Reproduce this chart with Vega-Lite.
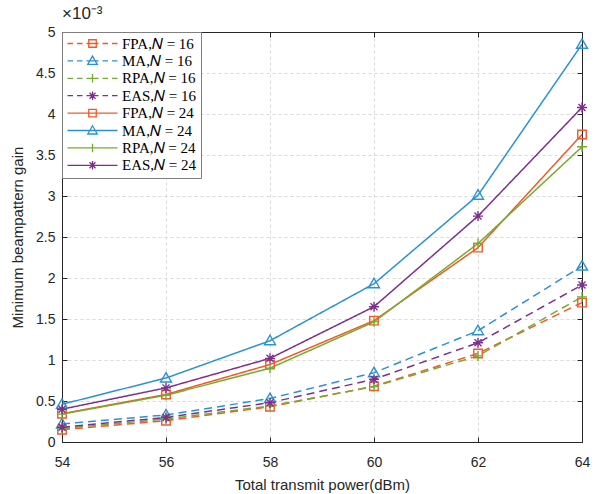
{
  "$schema": "https://vega.github.io/schema/vega-lite/v6.json",
  "autosize": {"type": "none"},
  "padding": {"left": 62, "top": 32, "right": 15, "bottom": 52},
  "width": 520,
  "height": 410,
  "background": "white",
  "title": {"text": "×10⁻³", "anchor": "start", "frame": "group", "fontSize": 17, "font": "Liberation Sans", "fontWeight": "normal", "color": "#262626", "offset": 2},
  "config": {
    "view": {"stroke": null},
    "axis": {"domainColor": "#262626", "tickColor": "#262626", "labelColor": "#262626", "titleColor": "#262626", "labelFont": "Liberation Sans", "titleFont": "Liberation Sans", "labelFontSize": 14, "titleFontSize": 15, "titleFontWeight": "normal", "gridColor": "#d9d9d9", "gridDash": [3, 3], "domainWidth": 1, "tickWidth": 1, "labelFlush": false},
    "legend": {"orient": "top-left", "offset": 0, "padding": 4, "title": null, "strokeColor": "#7f7f7f", "fillColor": "white",
               "labelFont": "Liberation Serif", "labelFontSize": 15, "labelColor": "#000000", "symbolSize": 100, "symbolOffset": 19, "labelOffset": 22, "rowPadding": 1.4, "symbolStrokeWidth": 1.3}
  },
  "data": {"values": [
    {"series": "FPA,𝑁 = 16", "method": "FPA", "N": 16, "power": 54, "gain": 0.15},
    {"series": "FPA,𝑁 = 16", "method": "FPA", "N": 16, "power": 56, "gain": 0.26},
    {"series": "FPA,𝑁 = 16", "method": "FPA", "N": 16, "power": 58, "gain": 0.43},
    {"series": "FPA,𝑁 = 16", "method": "FPA", "N": 16, "power": 60, "gain": 0.68},
    {"series": "FPA,𝑁 = 16", "method": "FPA", "N": 16, "power": 62, "gain": 1.08},
    {"series": "FPA,𝑁 = 16", "method": "FPA", "N": 16, "power": 64, "gain": 1.70},
    {"series": "MA,𝑁 = 16", "method": "MA", "N": 16, "power": 54, "gain": 0.22},
    {"series": "MA,𝑁 = 16", "method": "MA", "N": 16, "power": 56, "gain": 0.33},
    {"series": "MA,𝑁 = 16", "method": "MA", "N": 16, "power": 58, "gain": 0.53},
    {"series": "MA,𝑁 = 16", "method": "MA", "N": 16, "power": 60, "gain": 0.845},
    {"series": "MA,𝑁 = 16", "method": "MA", "N": 16, "power": 62, "gain": 1.357},
    {"series": "MA,𝑁 = 16", "method": "MA", "N": 16, "power": 64, "gain": 2.146},
    {"series": "RPA,𝑁 = 16", "method": "RPA", "N": 16, "power": 54, "gain": 0.165},
    {"series": "RPA,𝑁 = 16", "method": "RPA", "N": 16, "power": 56, "gain": 0.28},
    {"series": "RPA,𝑁 = 16", "method": "RPA", "N": 16, "power": 58, "gain": 0.44},
    {"series": "RPA,𝑁 = 16", "method": "RPA", "N": 16, "power": 60, "gain": 0.675},
    {"series": "RPA,𝑁 = 16", "method": "RPA", "N": 16, "power": 62, "gain": 1.05},
    {"series": "RPA,𝑁 = 16", "method": "RPA", "N": 16, "power": 64, "gain": 1.77},
    {"series": "EAS,𝑁 = 16", "method": "EAS", "N": 16, "power": 54, "gain": 0.18},
    {"series": "EAS,𝑁 = 16", "method": "EAS", "N": 16, "power": 56, "gain": 0.30},
    {"series": "EAS,𝑁 = 16", "method": "EAS", "N": 16, "power": 58, "gain": 0.48},
    {"series": "EAS,𝑁 = 16", "method": "EAS", "N": 16, "power": 60, "gain": 0.765},
    {"series": "EAS,𝑁 = 16", "method": "EAS", "N": 16, "power": 62, "gain": 1.21},
    {"series": "EAS,𝑁 = 16", "method": "EAS", "N": 16, "power": 64, "gain": 1.915},
    {"series": "FPA,𝑁 = 24", "method": "FPA", "N": 24, "power": 54, "gain": 0.345},
    {"series": "FPA,𝑁 = 24", "method": "FPA", "N": 24, "power": 56, "gain": 0.58},
    {"series": "FPA,𝑁 = 24", "method": "FPA", "N": 24, "power": 58, "gain": 0.945},
    {"series": "FPA,𝑁 = 24", "method": "FPA", "N": 24, "power": 60, "gain": 1.48},
    {"series": "FPA,𝑁 = 24", "method": "FPA", "N": 24, "power": 62, "gain": 2.37},
    {"series": "FPA,𝑁 = 24", "method": "FPA", "N": 24, "power": 64, "gain": 3.75},
    {"series": "MA,𝑁 = 24", "method": "MA", "N": 24, "power": 54, "gain": 0.46},
    {"series": "MA,𝑁 = 24", "method": "MA", "N": 24, "power": 56, "gain": 0.78},
    {"series": "MA,𝑁 = 24", "method": "MA", "N": 24, "power": 58, "gain": 1.235},
    {"series": "MA,𝑁 = 24", "method": "MA", "N": 24, "power": 60, "gain": 1.93},
    {"series": "MA,𝑁 = 24", "method": "MA", "N": 24, "power": 62, "gain": 3.01},
    {"series": "MA,𝑁 = 24", "method": "MA", "N": 24, "power": 64, "gain": 4.85},
    {"series": "RPA,𝑁 = 24", "method": "RPA", "N": 24, "power": 54, "gain": 0.34},
    {"series": "RPA,𝑁 = 24", "method": "RPA", "N": 24, "power": 56, "gain": 0.57},
    {"series": "RPA,𝑁 = 24", "method": "RPA", "N": 24, "power": 58, "gain": 0.90},
    {"series": "RPA,𝑁 = 24", "method": "RPA", "N": 24, "power": 60, "gain": 1.465},
    {"series": "RPA,𝑁 = 24", "method": "RPA", "N": 24, "power": 62, "gain": 2.42},
    {"series": "RPA,𝑁 = 24", "method": "RPA", "N": 24, "power": 64, "gain": 3.60},
    {"series": "EAS,𝑁 = 24", "method": "EAS", "N": 24, "power": 54, "gain": 0.40},
    {"series": "EAS,𝑁 = 24", "method": "EAS", "N": 24, "power": 56, "gain": 0.66},
    {"series": "EAS,𝑁 = 24", "method": "EAS", "N": 24, "power": 58, "gain": 1.02},
    {"series": "EAS,𝑁 = 24", "method": "EAS", "N": 24, "power": 60, "gain": 1.65},
    {"series": "EAS,𝑁 = 24", "method": "EAS", "N": 24, "power": 62, "gain": 2.755},
    {"series": "EAS,𝑁 = 24", "method": "EAS", "N": 24, "power": 64, "gain": 4.08}
  ]},
  "resolve": {"axis": {"x": "independent", "y": "independent"}},
  "layer": [
    {
      "mark": {"type": "line", "strokeWidth": 1.5},
      "encoding": {
        "x": {"field": "power", "type": "quantitative", "scale": {"domain": [54, 64], "nice": false, "zero": false},
              "axis": {"values": [54, 56, 58, 60, 62, 64], "format": "d", "grid": true, "tickSize": -5, "labelPadding": 18, "title": "Total transmit power(dBm)", "titlePadding": 8}},
        "y": {"field": "gain", "type": "quantitative", "scale": {"domain": [0, 5], "nice": false, "zero": true},
              "axis": {"values": [0, 0.5, 1, 1.5, 2, 2.5, 3, 3.5, 4, 4.5, 5], "labelExpr": "'' + datum.value", "grid": true, "tickSize": -5, "labelPadding": 12, "title": "Minimum beampattern gain", "titlePadding": 10}},
        "color": {"field": "series", "type": "nominal",
                  "scale": {"domain": ["FPA,𝑁 = 16", "MA,𝑁 = 16", "RPA,𝑁 = 16", "EAS,𝑁 = 16", "FPA,𝑁 = 24", "MA,𝑁 = 24", "RPA,𝑁 = 24", "EAS,𝑁 = 24"],
                            "range": ["#F05A28", "#2A93CF", "#77AC30", "#7E2F8E", "#F05A28", "#2A93CF", "#77AC30", "#7E2F8E"]},
                  "legend": {"encode": {"symbols": {"update": {
                               "shape": {"signal": "(indexof(datum.value,'FPA')==0 ? 'M-0.75,-0.75H0.75V0.75H-0.75Z' : indexof(datum.value,'MA')==0 ? 'M0,-0.95L0.95,0.7H-0.95Z' : indexof(datum.value,'RPA')==0 ? 'M-0.85,0H0.85M0,-0.85V0.85' : 'M-0.85,0H0.85M0,-0.85V0.85M-0.6,-0.6L0.6,0.6M-0.6,0.6L0.6,-0.6') + (indexof(datum.value,'16')>0 ? 'M-5,0H-3.9M-3.1,0H-2M-1.2,0H1.2M2,0H3.1M3.9,0H5' : 'M-5,0H5')"},
                               "fill": {"value": "transparent"},
                               "opacity": {"value": 1},
                               "strokeDash": {"value": []}
                             }}}}},
        "strokeDash": {"field": "N", "type": "nominal", "scale": {"domain": [16, 24], "range": [[8, 5], [1, 0]]}, "legend": null},
        "detail": {"field": "series"}
      }
    },
    {
      "mark": {"type": "point", "filled": false, "strokeWidth": 1.4, "size": 100, "opacity": 1},
      "encoding": {
        "x": {"field": "power", "type": "quantitative", "axis": {"orient": "top", "values": [54, 56, 58, 60, 62, 64], "labels": false, "tickSize": -5, "grid": false, "title": null}},
        "y": {"field": "gain", "type": "quantitative", "axis": {"orient": "right", "values": [0, 0.5, 1, 1.5, 2, 2.5, 3, 3.5, 4, 4.5, 5], "labels": false, "tickSize": -5, "grid": false, "title": null}},
        "color": {"field": "series", "type": "nominal",
                  "legend": {"encode": {"symbols": {"update": {
                               "shape": {"signal": "(indexof(datum.value,'FPA')==0 ? 'M-0.75,-0.75H0.75V0.75H-0.75Z' : indexof(datum.value,'MA')==0 ? 'M0,-0.95L0.95,0.7H-0.95Z' : indexof(datum.value,'RPA')==0 ? 'M-0.85,0H0.85M0,-0.85V0.85' : 'M-0.85,0H0.85M0,-0.85V0.85M-0.6,-0.6L0.6,0.6M-0.6,0.6L0.6,-0.6') + (indexof(datum.value,'16')>0 ? 'M-5,0H-3.9M-3.1,0H-2M-1.2,0H1.2M2,0H3.1M3.9,0H5' : 'M-5,0H5')"},
                               "fill": {"value": "transparent"},
                               "opacity": {"value": 1},
                               "strokeDash": {"value": []}
                             }}}}},
        "shape": {"field": "method", "type": "nominal", "legend": null,
                  "scale": {"domain": ["FPA", "MA", "RPA", "EAS"],
                            "range": ["M-0.85,-0.85H0.85V0.85H-0.85Z", "M0,-1.1L1.1,0.8H-1.1Z", "M-1,0H1M0,-1V1", "M-1,0H1M0,-1V1M-0.7,-0.7L0.7,0.7M-0.7,0.7L0.7,-0.7"]}}
      }
    }
  ]
}
